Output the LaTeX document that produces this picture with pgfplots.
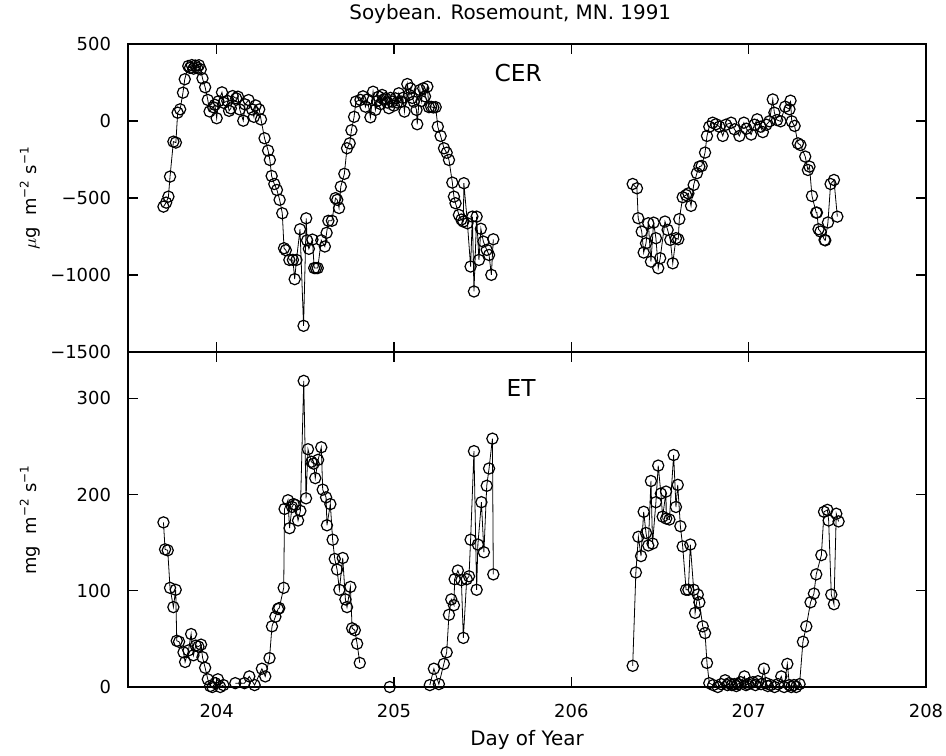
\documentclass[border=0pt]{standalone}
\usepackage{fontspec}
\setmainfont{DejaVu Sans}
\usepackage{pgfplots}
\usepackage{pgfplotstable}
\pgfplotsset{compat=1.18}

\pgfplotstableread{
x y
203.700 -556
203.715 -530
203.728 -491
203.737 -361
203.756 -134
203.770 -140
203.780 54
203.794 76
203.810 184
203.820 271
203.840 357
203.850 345
203.860 363
203.870 340
203.880 360
203.890 345
203.900 362
203.910 335
203.920 277
203.935 219
203.950 137
203.960 62
203.980 90
203.990 105
204.000 18
204.010 128
204.030 186
204.040 118
204.060 131
204.070 66
204.080 82
204.090 162
204.110 147
204.120 158
204.130 75
204.150 2
204.160 108
204.180 136
204.200 75
204.210 27
204.220 101
204.240 75
204.250 10
204.270 -112
204.290 -192
204.300 -253
204.310 -357
204.325 -409
204.340 -448
204.355 -512
204.370 -599
204.380 -826
204.390 -839
204.410 -902
204.430 -902
204.440 -1027
204.450 -902
204.470 -703
204.490 -1330
204.505 -632
204.510 -775
204.520 -830
204.540 -770
204.550 -955
204.560 -955
204.570 -955
204.590 -775
204.610 -815
204.620 -726
204.630 -648
204.650 -648
204.670 -501
204.680 -512
204.690 -565
204.700 -426
204.720 -343
204.735 -177
204.750 -145
204.760 -60
204.775 27
204.785 126
204.811 137
204.825 160
204.839 93
204.850 140
204.867 24
204.882 190
204.895 72
204.905 130
204.914 158
204.925 110
204.933 169
204.943 140
204.952 147
204.962 120
204.971 83
204.980 150
204.990 126
205.000 100
205.008 147
205.018 120
205.027 180
205.041 126
205.050 150
205.059 61
205.075 240
205.085 170
205.093 212
205.103 150
205.112 126
205.127 72
205.131 -21
205.146 201
205.155 130
205.165 212
205.175 160
205.188 223
205.197 90
205.210 92
205.222 88
205.235 90
205.247 -37
205.263 -97
205.282 -177
205.297 -206
205.310 -253
205.329 -400
205.338 -491
205.347 -534
205.366 -610
205.380 -640
205.391 -653
205.394 -404
205.414 -664
205.432 -945
205.442 -621
205.451 -1107
205.466 -621
205.479 -902
205.490 -700
205.504 -783
205.523 -837
205.536 -870
205.549 -999
205.560 -768
205.600 nan
206.346 -409
206.370 -437
206.377 -631
206.397 -718
206.408 -854
206.421 -794
206.434 -664
206.449 -913
206.464 -660
206.477 -761
206.490 -956
206.501 -891
206.528 -653
206.543 -707
206.558 -772
206.572 -924
206.590 -761
206.603 -768
206.609 -637
206.628 -495
206.647 -481
206.660 -470
206.675 -551
206.690 -415
206.708 -339
206.722 -296
206.735 -292
206.754 -205
206.765 -97
206.778 -37
206.797 -11
206.816 -21
206.835 -37
206.854 -97
206.872 -24
206.901 -11
206.920 -54
206.948 -97
206.973 -11
206.987 -50
207.014 -88
207.033 -24
207.048 11
207.067 -37
207.080 -72
207.100 -24
207.117 -2
207.136 140
207.145 54
207.160 6
207.180 -2
207.206 93
207.230 76
207.236 132
207.243 -2
207.259 -32
207.278 -145
207.292 -156
207.319 -231
207.334 -318
207.343 -296
207.357 -487
207.381 -595
207.385 -595
207.394 -703
207.405 -718
207.428 -772
207.432 -775
207.447 -659
207.462 -409
207.481 -383
207.500 -621
}\cerdata

\pgfplotstableread{
x y
203.700 171
203.709 143
203.724 142
203.737 103
203.756 83
203.769 101
203.775 48
203.788 47
203.813 36
203.822 26
203.841 38
203.856 55
203.869 33
203.882 43
203.897 42
203.912 44
203.920 31
203.935 20
203.950 8
203.963 1
203.976 0
203.992 4
204.007 8
204.020 0
204.038 2
204.060 nan
204.105 4
204.157 4
204.184 11
204.214 2
204.255 19
204.274 11
204.298 30
204.312 63
204.331 73
204.346 81
204.353 82
204.378 103
204.383 185
204.402 194
204.411 165
204.425 187
204.434 190
204.444 189
204.459 173
204.472 183
204.491 318
204.504 196
204.515 247
204.534 234
204.547 232
204.556 217
204.572 236
204.590 249
204.598 205
204.617 197
204.622 168
204.641 190
204.654 153
204.666 133
204.679 122
204.692 101
204.711 134
204.726 91
204.735 83
204.754 104
204.764 61
204.779 59
204.792 45
204.807 25
204.900 nan
204.976 0
205.100 nan
205.202 2
205.225 19
205.253 3
205.281 24
205.297 36
205.310 75
205.323 91
205.338 85
205.342 112
205.360 121
205.380 111
205.391 51
205.410 112
205.423 115
205.432 153
205.451 245
205.466 101
205.473 148
205.493 192
205.507 140
205.523 209
205.536 227
205.555 258
205.560 117
205.700 nan
206.346 22
206.364 119
206.378 156
206.393 136
206.408 182
206.421 160
206.434 147
206.449 214
206.458 149
206.477 192
206.490 230
206.505 201
206.515 177
206.534 203
206.535 175
206.553 174
206.577 241
206.590 187
206.600 210
206.615 167
206.628 146
206.647 101
206.660 101
206.671 148
206.690 101
206.698 77
206.713 96
206.722 88
206.741 63
206.754 56
206.765 25
206.778 4
206.800 2
206.826 0
206.845 3
206.867 7
206.880 2
206.890 4
206.905 2
206.920 3
206.930 1
206.940 3
206.955 5
206.976 11
206.985 2
206.995 3
207.010 4
207.024 5
207.038 2
207.052 6
207.070 3
207.086 19
207.098 4
207.108 1
207.125 2
207.146 0
207.165 3
207.184 11
207.200 0
207.218 24
207.230 2
207.240 0
207.255 2
207.268 0
207.287 3
207.306 47
207.325 63
207.349 88
207.368 97
207.381 117
207.410 137
207.425 182
207.444 184
207.451 173
207.466 96
207.481 86
207.494 180
207.507 172
}\etdata

\pgfplotsset{
  myax/.style={
    scale only axis, width=399bp,
    xmin=203.5, xmax=208,
    xtick={204,205,206,207,208},
    tick align=inside,
    major tick length=5bp,
    axis line style={line width=0.7bp},
    every tick/.style={line width=0.6bp, black},
    tick label style={font=\fontsize{9}{10}\selectfont},
    xticklabel style={yshift=-5bp},
    yticklabel style={xshift=-5bp},
    /pgf/number format/assume math mode=true,
    clip=false,
    unbounded coords=jump,
    every axis y label/.style={at={(rel axis cs:-0.123,0.5)}, rotate=90, anchor=center, font=\fontsize{9}{10}\selectfont},
  },
  myplot/.style={black, line width=0.4bp, mark=o, mark size=2.8bp, mark options={line width=0.6bp, solid, fill=none}},
}

\begin{document}
\begin{tikzpicture}
\useasboundingbox (-64bp,-356bp) rectangle (409bp,22bp);
\begin{axis}[myax, name=top, at={(0,0)}, anchor=north west,
    height=154bp, ymin=-1500, ymax=500,
    ytick={-1500,-1000,-500,0,500},
    yticklabels={−1500,−1000,−500,0,500},
    xticklabels={},
    ylabel={$\mu$g\ \ m\textsuperscript{−2}\ s\textsuperscript{−1}}]
  \addplot[myplot] table[x=x,y=y] {\cerdata};
  \node[font=\fontsize{11.7}{13}\selectfont] at (rel axis cs:0.489,0.906) {CER};
  \node[font=\fontsize{10}{12}\selectfont] at (rel axis cs:0.479,1) [yshift=15bp] {Soybean. Rosemount, MN. 1991};
\end{axis}
\begin{axis}[myax, name=bot, at={(top.south west)}, anchor=north west,
    height=167.5bp, ymin=0, ymax=348,
    ytick={0,100,200,300},
    ylabel={mg\ \ m\textsuperscript{−2}\ s\textsuperscript{−1}},
    xlabel={Day of Year},
    xlabel style={at={(rel axis cs:0.5,0)}, anchor=center, yshift=-26.5bp, font=\fontsize{10}{12}\selectfont}]
  \addplot[myplot] table[x=x,y=y] {\etdata};
  \node[font=\fontsize{11.7}{13}\selectfont] at (rel axis cs:0.4925,0.8925) {ET};
\end{axis}
\end{tikzpicture}
\end{document}
